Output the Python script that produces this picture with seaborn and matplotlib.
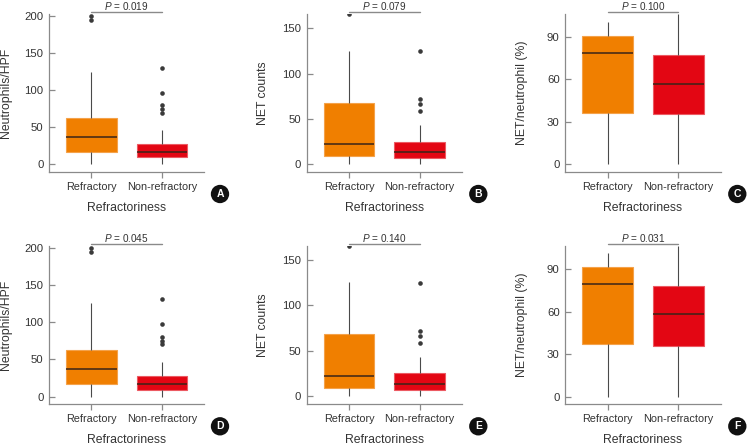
import matplotlib
matplotlib.use('Agg')
import matplotlib.pyplot as plt
import numpy as np
import seaborn as sns

groups = ['Refractory', 'Non-refractory']

# box summaries: [low whisker, Q1, median, Q3, high whisker]
neut_ref_A = [0, 16.3, 37.3, 62.4, 125.2]
neut_non_A = [0, 9.6, 16.3, 27.5, 47.0]
neut_ref_out_A = [194.6, 200.5]
neut_non_out_A = [69.8, 74.3, 80.0, 97.0, 130.3]

net_ref_B = [0, 8.9, 22.0, 67.5, 124.5]
net_non_B = [0, 6.0, 13.0, 24.6, 42.6]
net_ref_out_B = [165.8]
net_non_out_B = [58.0, 66.3, 71.5, 124.8]

pct_ref_C = [0, 35.9, 78.2, 90.7, 100.4]
pct_non_C = [0, 35.2, 56.9, 76.8, 106.0]

neut_ref_D = [0, 16.5, 37.1, 62.2, 125.0]
neut_non_D = [0, 9.4, 16.5, 27.3, 47.0]
neut_ref_out_D = [194.6, 200.0]
neut_non_out_D = [70.0, 74.0, 80.0, 97.0, 130.6]

net_ref_E = [0, 8.5, 22.2, 68.5, 125.9]
net_non_E = [0, 6.3, 13.0, 24.8, 42.6]
net_ref_out_E = [165.9]
net_non_out_E = [58.5, 66.3, 71.5, 124.8]

pct_ref_F = [0, 36.9, 79.1, 91.2, 101.0]
pct_non_F = [0, 35.7, 58.0, 77.7, 106.0]

p_values = ['0.019', '0.079', '0.100', '0.045', '0.140', '0.031']
panel_letters = ['A', 'B', 'C', 'D', 'E', 'F']

sns.set_style('white')
plt.rcParams['font.family'] = ['Liberation Sans', 'DejaVu Sans']
plt.rcParams['mathtext.fontset'] = 'custom'
plt.rcParams['mathtext.it'] = 'Liberation Sans:italic'
plt.rcParams['mathtext.rm'] = 'Liberation Sans'

orange = '#F07F00'
red = '#E30613'
edge_cols = {'Refractory': '#F4A24A', 'Non-refractory': '#EC5A62'}
txt = '#333333'

panels = [
    (neut_ref_A, neut_non_A, neut_ref_out_A, neut_non_out_A, 'Neutrophils/HPF', (-10.3, 203), [0, 50, 100, 150, 200]),
    (net_ref_B, net_non_B, net_ref_out_B, net_non_out_B, 'NET counts', (-9.2, 166), [0, 50, 100, 150]),
    (pct_ref_C, pct_non_C, [], [], 'NET/neutrophil (%)', (-5.4, 106), [0, 30, 60, 90]),
    (neut_ref_D, neut_non_D, neut_ref_out_D, neut_non_out_D, 'Neutrophils/HPF', (-10.2, 202.7), [0, 50, 100, 150, 200]),
    (net_ref_E, net_non_E, net_ref_out_E, net_non_out_E, 'NET counts', (-9.2, 166), [0, 50, 100, 150]),
    (pct_ref_F, pct_non_F, [], [], 'NET/neutrophil (%)', (-5.2, 106.5), [0, 30, 60, 90]),
]

lefts = [49, 306.7, 565.3]
letter_x = [220, 478.3, 737.3]
W, H = 748, 445

fig = plt.figure(figsize=(7.48, 4.45), dpi=100)

for i, (ref, non, ref_out, non_out, ylab, ylim, yticks) in enumerate(panels):
    row, col = divmod(i, 3)
    if row == 0:
        bottom, top = 172, 14
    else:
        bottom, top = 404.3, 245.5
    ax = fig.add_axes([lefts[col] / W, 1 - bottom / H, 155.3 / W, (bottom - top) / H])

    xs = [groups[0]] * len(ref) + [groups[1]] * len(non)
    ys = ref + non
    sns.boxplot(x=xs, y=ys, hue=xs, order=groups, hue_order=groups,
                palette={groups[0]: orange, groups[1]: red}, legend=False,
                saturation=1, whis=np.inf, width=0.72, showcaps=False, showfliers=False,
                linecolor='#4a4a4a', linewidth=0.8,
                medianprops=dict(color='#3a2418', linewidth=1.1),
                ax=ax)
    for patch, g in zip(ax.patches, groups):
        patch.set_edgecolor(edge_cols[g])

    ox = [groups[0]] * len(ref_out) + [groups[1]] * len(non_out)
    oy = ref_out + non_out
    if oy:
        sns.stripplot(x=ox, y=oy, order=groups, jitter=False, color='#3a3a3a',
                      size=3.3, linewidth=0, ax=ax, zorder=5)

    ax.set_xlim(-0.6, 1.6)
    ax.set_ylim(*ylim)
    ax.set_yticks(yticks)
    sns.despine(ax=ax)
    for s in ['left', 'bottom']:
        ax.spines[s].set_color('#8a8a8a')
        ax.spines[s].set_linewidth(0.9)
    ax.tick_params(axis='y', direction='in', length=4, width=0.9, color='#8a8a8a',
                   labelsize=8.2, labelcolor=txt, pad=4, left=True)
    ax.tick_params(axis='x', direction='out', length=4, width=0.9, color='#8a8a8a',
                   labelsize=7.8, labelcolor=txt, pad=3, bottom=True)
    ax.set_xlabel('Refractoriness', fontsize=8.8, color=txt)
    ax.set_ylabel(ylab, fontsize=8.8, color=txt)
    ax.xaxis.set_label_coords(0.5, -0.19)
    ax.yaxis.set_label_coords(-0.24, 0.5)

    # significance bracket
    ax.plot([0, 1], [1.01, 1.01], transform=ax.get_xaxis_transform(),
            color='#8a8a8a', lw=1.0, clip_on=False)
    ax.text(0.5, 1.024, r'$\it{P}$ = ' + p_values[i], transform=ax.get_xaxis_transform(),
            ha='center', va='baseline', fontsize=7.2, color=txt, clip_on=False)

    ly = 194 if row == 0 else 426.3
    fig.text(letter_x[col] / W, 1 - ly / H, panel_letters[i], ha='center', va='center',
             color='white', fontsize=7.5, fontweight='bold',
             bbox=dict(boxstyle='circle,pad=0.4', fc='#111111', ec='none'))

fig.savefig('out.png', dpi=100)
